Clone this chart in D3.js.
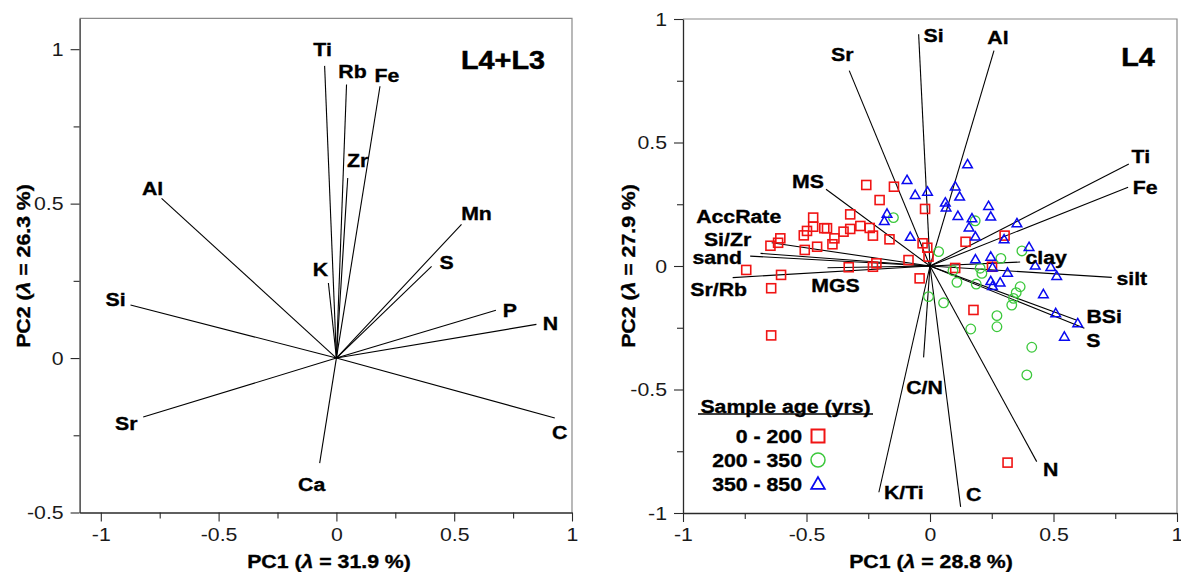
<!DOCTYPE html>
<html>
<head>
<meta charset="utf-8">
<script src="https://cdn.jsdelivr.net/npm/d3@7"></script>
<style>
  html, body { margin: 0; padding: 0; background: #fff; }
  svg { display: block; }
  text { font-family: "Liberation Sans", Arial, Helvetica, sans-serif; }
</style>
</head>
<body>
<svg id="chart" width="1181" height="572"></svg>
<script>
// ---------- PCA loadings: L4+L3 ----------
const leftVars = ["Ti", "Rb", "Fe", "Zr", "Al", "Mn", "S", "K", "Si", "P", "N", "Sr", "C", "Ca"];
const leftPC1  = [-0.050, 0.043, 0.185, 0.048, -0.742, 0.531, 0.404, -0.034, -0.874, 0.677, 0.849, -0.820, 0.927, -0.071];
const leftPC2  = [0.946, 0.886, 0.880, 0.583, 0.517, 0.433, 0.297, 0.243, 0.172, 0.155, 0.109, -0.191, -0.194, -0.340];

// ---------- PCA loadings: L4 ----------
const rightVars = ["Si", "Al", "Sr", "Ti", "Fe", "MS", "AccRate", "Si/Zr", "sand", "Sr/Rb", "MGS",
                   "clay", "silt", "BSi", "S", "C/N", "K/Ti", "C", "N"];
const rightPC1  = [-0.046, 0.259, -0.327, 0.805, 0.802, -0.421, -0.641, -0.686, -0.728, -0.799, -0.415,
                   0.365, 0.736, 0.592, 0.625, -0.026, -0.207, 0.124, 0.432];
const rightPC2  = [0.938, 0.872, 0.791, 0.413, 0.319, 0.311, 0.094, 0.051, 0.040, -0.047, -0.007,
                   0.016, -0.046, -0.219, -0.252, -0.370, -0.916, -0.975, -0.792];

// ---------- L4 sample scores by age class ----------
const age0to200PC1 = [-0.258, -0.146, -0.204, -0.020, -0.473, -0.323, -0.473, -0.498, -0.511, -0.428, -0.417,
                      -0.387, -0.395, -0.350, -0.323, -0.282, -0.244, -0.231, -0.164, -0.606, -0.615, -0.646,
                      -0.507, -0.457, -0.030, -0.011, -0.006, 0.144, -0.087, -0.217, -0.231, -0.329, -0.042,
                      -0.744, -0.603, -0.643, -0.643, 0.176, 0.302, 0.251, 0.314, 0.102];
const age0to200PC2 = [0.328, 0.321, 0.267, 0.231, 0.196, 0.209, 0.159, 0.142, 0.124, 0.153, 0.153,
                      0.112, 0.088, 0.139, 0.150, 0.162, 0.154, 0.123, 0.108, 0.112, 0.094, 0.082,
                      0.065, 0.078, 0.092, 0.074, 0.038, 0.098, 0.024, 0.011, -0.003, -0.005, -0.050,
                      -0.016, -0.036, -0.090, -0.281, -0.178, 0.123, -0.003, -0.796, -0.008];

const age200to350PC1 = [-0.148, 0.035, 0.183, 0.093, 0.109, 0.187, -0.006, 0.055, 0.165, 0.372, 0.287,
                        0.203, 0.210, 0.365, 0.349, 0.338, 0.331, 0.271, 0.271, 0.412, 0.392];
const age200to350PC2 = [0.196, 0.058, 0.183, -0.019, -0.066, -0.073, -0.124, -0.149, -0.255, 0.061, 0.031,
                        -0.009, -0.030, -0.084, -0.108, -0.131, -0.158, -0.201, -0.246, -0.329, -0.441];

const age350to850PC1 = [0.152, -0.093, -0.060, -0.010, 0.102, 0.120, 0.062, 0.065, 0.113, 0.170, 0.158,
                        0.184, -0.174, -0.185, -0.080, 0.184, 0.237, 0.246, 0.352, 0.300, 0.401, 0.246,
                        0.253, 0.314, 0.426, 0.489, 0.513, 0.246, 0.284, 0.253, 0.459, 0.509, 0.598, 0.544];
const age350to850PC2 = [0.409, 0.345, 0.285, 0.298, 0.319, 0.278, 0.254, 0.234, 0.200, 0.190, 0.153,
                        0.116, 0.209, 0.179, 0.115, 0.024, 0.240, 0.197, 0.170, 0.105, 0.074, 0.035,
                        -0.009, -0.030, -0.001, -0.007, -0.043, -0.064, -0.070, -0.084, -0.117, -0.194, -0.235, -0.289];

const ageClasses = ["0 - 200", "200 - 350", "350 - 850"];

// ---------- Tick values ----------
const leftXMajor  = [-1, -0.5, 0, 0.5, 1];
const leftXMinor  = [-0.75, -0.25, 0.25, 0.75];
const leftYMajor  = [-0.5, 0, 0.5, 1];
const leftYMinor  = [-0.25, 0.25, 0.75];
const rightXMajor = [-1, -0.5, 0, 0.5, 1];
const rightXMinor = [-0.75, -0.25, 0.25, 0.75];
const rightYMajor = [-1, -0.5, 0, 0.5, 1];
const rightYMinor = [-0.75, -0.25, 0.25, 0.75];

// ---------- Label placement (pixel nudges from each vector tip) ----------
const leftNudge = {
  "Ti": [-2, -16], "Rb": [6, -13], "Fe": [7, -11], "Zr": [10, -18], "Al": [-9, -10], "Mn": [15, -11],
  "S": [15, -4], "K": [-8, -14], "Si": [-15, -6], "P": [14, 0], "N": [14, -1], "Sr": [-17, 6],
  "C": [5, 14], "Ca": [-8, 21]
};
const rightNudge = {
  "Si": [15, 1], "Al": [4, -13], "Sr": [-7, -16], "Ti": [12, -8], "Fe": [17, 0], "MS": [-18, -8],
  "AccRate": [-33, -26], "Si/Zr": [-33, -14], "sand": [-33, 1], "Sr/Rb": [-14, 12], "MGS": [8, 18],
  "clay": [26, -5], "silt": [20, 1], "BSi": [28, -4], "S": [9, 12], "C/N": [1, 30], "K/Ti": [25, 0],
  "C": [13, -12], "N": [14, 8]
};

const svg = d3.select("#chart");
svg.append("rect").attr("width", 1181).attr("height", 572).attr("fill", "#fff");

const FONT_STRETCH = 1.12;
const AXIS_COLOR = "#2a2a2a";
const FRAME_COLOR = "#8a8a8a";

function label(g, x, y, str, size, opts = {}) {
  const t = g.append("text")
    .attr("transform", `translate(${x},${y})${opts.rotate ? " rotate(" + opts.rotate + ")" : ""} scale(${opts.stretch || FONT_STRETCH},1)`)
    .attr("text-anchor", opts.anchor || "middle")
    .attr("dominant-baseline", "central")
    .attr("font-size", size)
    .attr("font-weight", opts.weight || "bold")
    .attr("fill", opts.fill || "#000")
    .attr("stroke", opts.fill || "#000")
    .attr("stroke-width", opts.heavy == null ? 0.35 : opts.heavy);
  return t;
}

function lambdaTitle(t, prefix, pct) {
  t.append("tspan").text(prefix + " (");
  t.append("tspan").attr("font-style", "italic").text("\u03bb");
  t.append("tspan").text(" = " + pct + " %)");
}

function panel(cfg) {
  const x = d3.scaleLinear().domain(cfg.xDomain).range([cfg.left, cfg.right]);
  const y = d3.scaleLinear().domain(cfg.yDomain).range([cfg.bottom, cfg.top]);
  const g = svg.append("g");

  // top / right frame
  g.append("path")
    .attr("d", `M${cfg.left},${cfg.top}H${cfg.right}V${cfg.bottom}`)
    .attr("fill", "none").attr("stroke", FRAME_COLOR).attr("stroke-width", 1.2);

  // minor ticks
  g.append("g").attr("transform", `translate(0,${cfg.bottom})`)
    .call(d3.axisBottom(x).tickValues(cfg.xMinor).tickSize(6).tickSizeOuter(0).tickFormat(""))
    .call(a => a.select(".domain").remove())
    .call(a => a.selectAll("line").attr("stroke", AXIS_COLOR).attr("stroke-width", 1.1));
  g.append("g").attr("transform", `translate(${cfg.left},0)`)
    .call(d3.axisLeft(y).tickValues(cfg.yMinor).tickSize(6).tickSizeOuter(0).tickFormat(""))
    .call(a => a.select(".domain").remove())
    .call(a => a.selectAll("line").attr("stroke", AXIS_COLOR).attr("stroke-width", 1.1));

  // major ticks + labels
  const xa = g.append("g").attr("transform", `translate(0,${cfg.bottom})`)
    .call(d3.axisBottom(x).tickValues(cfg.xMajor).tickSize(9).tickSizeOuter(0).tickPadding(6)
      .tickFormat(d => String(d)));
  const ya = g.append("g").attr("transform", `translate(${cfg.left},0)`)
    .call(d3.axisLeft(y).tickValues(cfg.yMajor).tickSize(9).tickSizeOuter(0).tickPadding(7)
      .tickFormat(d => String(d)));
  [xa, ya].forEach(a => {
    a.attr("font-family", null).attr("font-size", null);
    a.select(".domain").attr("stroke", AXIS_COLOR).attr("stroke-width", 1.3);
    a.selectAll("line").attr("stroke", AXIS_COLOR).attr("stroke-width", 1.1);
    a.selectAll("text").attr("font-size", 19).attr("fill", "#1a1a1a");
  });
  xa.selectAll("text").attr("transform", `scale(${FONT_STRETCH},1)`);
  ya.selectAll("text").attr("x", -16 / FONT_STRETCH).attr("transform", `scale(${FONT_STRETCH},1)`);

  // axis titles
  lambdaTitle(label(g, cfg.xTitleX, cfg.xTitleY, "", 19), "PC1", cfg.pc1);
  lambdaTitle(label(g, cfg.yTitleX, cfg.yTitleY, "", 19, { rotate: -90 }), "PC2", cfg.pc2);

  // panel tag
  label(g, cfg.tagX, cfg.tagY, "", 25, { stretch: 1.15, heavy: 0.5 }).text(cfg.tag);

  return { g, x, y };
}

function drawVectors(p, names, pc1, pc2, nudge) {
  const x0 = p.x(0), y0 = p.y(0);
  const vg = p.g.append("g");
  vg.selectAll("line").data(names).join("line")
    .attr("x1", x0).attr("y1", y0)
    .attr("x2", (d, i) => p.x(pc1[i]))
    .attr("y2", (d, i) => p.y(pc2[i]))
    .attr("stroke", "#000").attr("stroke-width", 1.1);
  return (layer) => {
    names.forEach((n, i) => {
      const off = nudge[n] || [0, 0];
      label(layer, p.x(pc1[i]) + off[0], p.y(pc2[i]) + off[1], "", 19).text(n);
    });
  };
}

// ---------- Left panel: L4+L3 ----------
const L = panel({
  xDomain: [-1.09, 1], yDomain: [-0.5, 1.1],
  left: 79.6, right: 572, top: 18.3, bottom: 512.5,
  xMajor: leftXMajor, xMinor: leftXMinor, yMajor: leftYMajor, yMinor: leftYMinor,
  pc1: "31.9", pc2: "26.3",
  xTitleX: 329, xTitleY: 561, yTitleX: 23, yTitleY: 266,
  tag: "L4+L3", tagX: 503, tagY: 61
});
const leftLabels = drawVectors(L, leftVars, leftPC1, leftPC2, leftNudge);
leftLabels(L.g.append("g"));

// ---------- Right panel: L4 ----------
const R = panel({
  xDomain: [-1, 1], yDomain: [-1, 1],
  left: 683, right: 1177, top: 19, bottom: 513,
  xMajor: rightXMajor, xMinor: rightXMinor, yMajor: rightYMajor, yMinor: rightYMinor,
  pc1: "28.8", pc2: "27.9",
  xTitleX: 931, xTitleY: 561, yTitleX: 628, yTitleY: 266,
  tag: "L4", tagX: 1138, tagY: 58
});
const rightLabels = drawVectors(R, rightVars, rightPC1, rightPC2, rightNudge);

const RED = "#f01414", GREEN = "#3cc83c", BLUE = "#0a0af0";
const pts = R.g.append("g");

const sq = d3.zip(age0to200PC1, age0to200PC2);
pts.selectAll("rect.s").data(sq).join("rect").attr("class", "s")
  .attr("x", d => R.x(d[0]) - 4.5).attr("y", d => R.y(d[1]) - 4.5)
  .attr("width", 9).attr("height", 9)
  .attr("fill", "none").attr("stroke", RED).attr("stroke-width", 1.6);

const ci = d3.zip(age200to350PC1, age200to350PC2);
pts.selectAll("circle.c").data(ci).join("circle").attr("class", "c")
  .attr("cx", d => R.x(d[0])).attr("cy", d => R.y(d[1])).attr("r", 4.8)
  .attr("fill", "none").attr("stroke", GREEN).attr("stroke-width", 1.3);

const tri = d3.zip(age350to850PC1, age350to850PC2);
const triPath = d3.symbol(d3.symbolTriangle, 40)();
pts.selectAll("path.t").data(tri).join("path").attr("class", "t")
  .attr("d", triPath)
  .attr("transform", d => `translate(${R.x(d[0])},${R.y(d[1])})`)
  .attr("fill", "none").attr("stroke", BLUE).attr("stroke-width", 1.5);

rightLabels(R.g.append("g"));

// ---------- Legend ----------
const lg = R.g.append("g");
label(lg, 785.5, 406, "", 19).text("Sample age (yrs)");
lg.append("line").attr("x1", 698).attr("x2", 873).attr("y1", 414).attr("y2", 414)
  .attr("stroke", "#000").attr("stroke-width", 1.5);
const legendRows = [436, 460, 484];
ageClasses.forEach((name, i) => {
  label(lg, 802, legendRows[i], "", 19, { anchor: "end" }).text(name);
});
lg.append("rect").attr("x", 818 - 6.5).attr("y", legendRows[0] - 6.5).attr("width", 13).attr("height", 13)
  .attr("fill", "none").attr("stroke", RED).attr("stroke-width", 2);
lg.append("circle").attr("cx", 818).attr("cy", legendRows[1]).attr("r", 7)
  .attr("fill", "none").attr("stroke", GREEN).attr("stroke-width", 1.5);
lg.append("path").attr("d", d3.symbol(d3.symbolTriangle, 80)())
  .attr("transform", `translate(818,${legendRows[2] + 1})`)
  .attr("fill", "none").attr("stroke", BLUE).attr("stroke-width", 1.8);
</script>
</body>
</html>
